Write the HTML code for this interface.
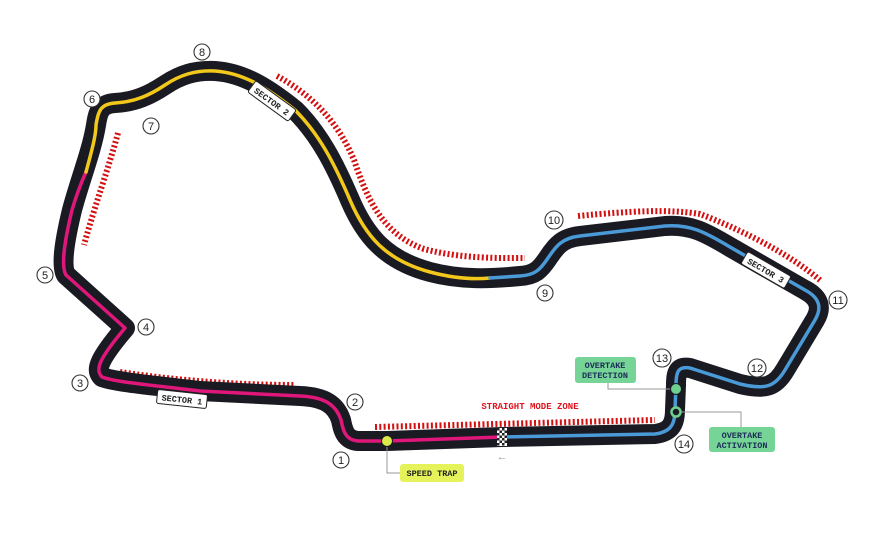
<!DOCTYPE html>
<html><head><meta charset="utf-8"><style>
html,body{margin:0;padding:0;background:#fff;}
svg{display:block;}
text{font-family:"Liberation Mono","DejaVu Sans Mono",monospace;font-weight:bold;}
.n{font-family:"Liberation Sans",sans-serif;font-weight:normal;font-size:11px;fill:#222;}
.c{fill:#fff;stroke:#333;stroke-width:1.1;}
</style></head><body>
<svg width="893" height="550" viewBox="0 0 893 550" xmlns="http://www.w3.org/2000/svg">
<g fill="none" stroke="#d40f0f" stroke-width="6" stroke-dasharray="2 2.3">
<path d="M118,133 C108,170 95,205 84,245"/>
<path d="M277,76 C312,95 338,122 354,160 C367,198 382,234 424,249 C462,259 500,258 525,258"/>
<path d="M578,216 C630,211 670,209 700,214 C740,229 790,254 821,281"/>
<path d="M120,372 C180,381 240,385 295,385"/>
<path d="M375,427 L655,420"/>
</g>
<path fill="none" stroke="#1a1a22" stroke-width="20" stroke-linejoin="round" stroke-linecap="round"
d="M502,437 L387,441 L358,441 C345,440 343,430 341,420 C336,405 325,397 300,396 L200,391 C150,385 115,382 102,377 C95,370 98,360 125,328 L105,310 L66,275 C60,265 66,235 72,210 C80,180 92,150 96,125 C98,112 100,104 115,103 C135,102 150,95 165,85 C180,75 195,70 215,71 C245,73 270,90 295,110 C320,135 335,165 350,200 C365,235 385,260 430,272 C460,280 490,279 520,276 C535,275 540,270 548,258 C556,246 562,238 580,236 L665,226 C690,224 705,232 730,247 L805,290 C820,298 822,308 815,320 L785,370 C775,387 765,390 740,384 L690,368 C678,366 676,372 676,385 L675,410 C675,425 670,432 655,434 Z"/>
<g fill="none" stroke-width="3.5" stroke-linejoin="round" stroke-linecap="round">
<path stroke="#e0177a" d="M502,437 L387,441 L358,441 C345,440 343,430 341,420 C336,405 325,397 300,396 L200,391 C150,385 115,382 102,377 C95,370 98,360 125,328 L105,310 L66,275 C60,265 66,235 72,210 C75,200 80,185 86,172"/>
<path stroke="#f2c81c" d="M86,172 C92,150 96,135 96,125 C98,112 100,104 115,103 C135,102 150,95 165,85 C180,75 195,70 215,71 C245,73 270,90 295,110 C320,135 335,165 350,200 C365,235 385,260 430,272 C460,280 480,279 490,278"/>
<path stroke="#4b9ad8" d="M490,278 L520,276 C535,275 540,270 548,258 C556,246 562,238 580,236 L665,226 C690,224 705,232 730,247 L805,290 C820,298 822,308 815,320 L785,370 C775,387 765,390 740,384 L690,368 C678,366 676,372 676,385 L675,410 C675,425 670,432 655,434 L502,437"/>
</g>
<g><rect x="497" y="428" width="10" height="18" fill="#fff"/>
<g fill="#222"><rect x="497" y="428" width="2.5" height="2.5"/><rect x="502" y="428" width="2.5" height="2.5"/><rect x="499.5" y="430.5" width="2.5" height="2.5"/><rect x="504.5" y="430.5" width="2.5" height="2.5"/><rect x="497" y="433" width="2.5" height="2.5"/><rect x="502" y="433" width="2.5" height="2.5"/><rect x="499.5" y="435.5" width="2.5" height="2.5"/><rect x="504.5" y="435.5" width="2.5" height="2.5"/><rect x="497" y="438" width="2.5" height="2.5"/><rect x="502" y="438" width="2.5" height="2.5"/><rect x="499.5" y="440.5" width="2.5" height="2.5"/><rect x="504.5" y="440.5" width="2.5" height="2.5"/><rect x="497" y="443" width="2.5" height="2.5"/><rect x="502" y="443" width="2.5" height="2.5"/></g></g>
<text x="502" y="460" font-size="11" fill="#999" text-anchor="middle" style="font-weight:normal">←</text>
<g transform="translate(182,399) rotate(6)"><rect x="-25" y="-7" width="50" height="14" rx="2" fill="#fff" stroke="#222"/><text y="3.5" font-size="8.5" text-anchor="middle" fill="#222">SECTOR 1</text></g>
<g transform="translate(272,101) rotate(36)"><rect x="-25" y="-7" width="50" height="14" rx="2" fill="#fff" stroke="#222"/><text y="3.5" font-size="8.5" text-anchor="middle" fill="#222">SECTOR 2</text></g>
<g transform="translate(766,270) rotate(30)"><rect x="-25" y="-7" width="50" height="14" rx="2" fill="#fff" stroke="#222"/><text y="3.5" font-size="8.5" text-anchor="middle" fill="#222">SECTOR 3</text></g>
<text x="530" y="409" font-size="9" fill="#e0141e" text-anchor="middle">STRAIGHT MODE ZONE</text>
<polyline points="387,441 387,473 400,473" fill="none" stroke="#999" stroke-width="1"/>
<circle cx="387" cy="441" r="5.5" fill="#dce94a" stroke="#1a1a22" stroke-width="1"/>
<rect x="400" y="464" width="64" height="18" rx="3" fill="#e6f25a"/>
<text x="432" y="476" font-size="8.5" text-anchor="middle" fill="#222">SPEED TRAP</text>
<polyline points="608,381 608,389 670,389" fill="none" stroke="#999" stroke-width="1"/>
<polyline points="681,412 741,412 741,427" fill="none" stroke="#999" stroke-width="1"/>
<circle cx="676" cy="389" r="5.5" fill="#6ecf8e" stroke="#1a1a22" stroke-width="1"/>
<circle cx="676" cy="412" r="4.5" fill="#1a1a22" stroke="#6ecf8e" stroke-width="2.5"/>
<rect x="575" y="357" width="61" height="26" rx="3" fill="#76d496"/>
<text x="605" y="368" font-size="8.5" text-anchor="middle" fill="#1c2c5a">OVERTAKE</text>
<text x="605" y="378" font-size="8.5" text-anchor="middle" fill="#1c2c5a">DETECTION</text>
<rect x="709" y="427" width="66" height="25" rx="3" fill="#76d496"/>
<text x="742" y="438" font-size="8.5" text-anchor="middle" fill="#1c2c5a">OVERTAKE</text>
<text x="742" y="448" font-size="8.5" text-anchor="middle" fill="#1c2c5a">ACTIVATION</text>
<g>
<circle class="c" cx="341" cy="460" r="8"/><text class="n" x="341" y="464" text-anchor="middle">1</text>
<circle class="c" cx="355" cy="402" r="8"/><text class="n" x="355" y="406" text-anchor="middle">2</text>
<circle class="c" cx="80" cy="383" r="8"/><text class="n" x="80" y="387" text-anchor="middle">3</text>
<circle class="c" cx="146" cy="327" r="8"/><text class="n" x="146" y="331" text-anchor="middle">4</text>
<circle class="c" cx="45" cy="275" r="8"/><text class="n" x="45" y="279" text-anchor="middle">5</text>
<circle class="c" cx="92" cy="99" r="8"/><text class="n" x="92" y="103" text-anchor="middle">6</text>
<circle class="c" cx="151" cy="126" r="8"/><text class="n" x="151" y="130" text-anchor="middle">7</text>
<circle class="c" cx="202" cy="52" r="8"/><text class="n" x="202" y="56" text-anchor="middle">8</text>
<circle class="c" cx="545" cy="293" r="8"/><text class="n" x="545" y="297" text-anchor="middle">9</text>
<circle class="c" cx="554" cy="220" r="9"/><text class="n" x="554" y="224" text-anchor="middle">10</text>
<circle class="c" cx="838" cy="300" r="9"/><text class="n" x="838" y="304" text-anchor="middle">11</text>
<circle class="c" cx="757" cy="368" r="9"/><text class="n" x="757" y="372" text-anchor="middle">12</text>
<circle class="c" cx="662" cy="358" r="9"/><text class="n" x="662" y="362" text-anchor="middle">13</text>
<circle class="c" cx="684" cy="444" r="9"/><text class="n" x="684" y="448" text-anchor="middle">14</text>
</g>
</svg>
</body></html>
